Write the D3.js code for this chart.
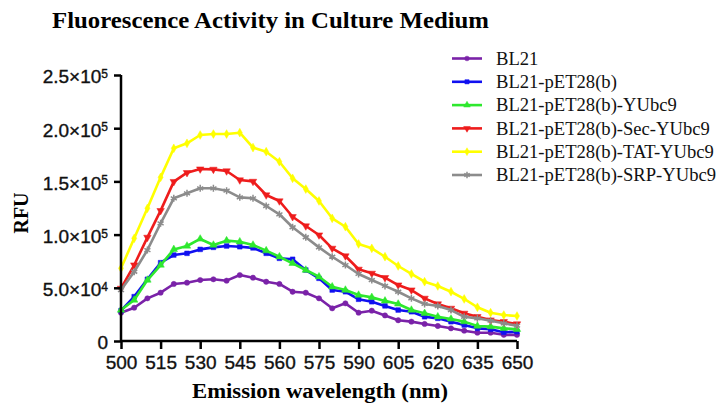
<!DOCTYPE html>
<html>
<head>
<meta charset="utf-8">
<script src="https://cdn.jsdelivr.net/npm/d3@7"></script>
<style>
  body { margin: 0; background: #fff; }
  svg { display: block; }
</style>
</head>
<body>
<div id="chart"></div>
<script>
// wavelengths (nm), one reading every 5 nm
const wavelengths = d3.range(500, 651, 5);

const seriesNames = [
  "BL21",
  "BL21-pET28(b)",
  "BL21-pET28(b)-YUbc9",
  "BL21-pET28(b)-Sec-YUbc9",
  "BL21-pET28(b)-TAT-YUbc9",
  "BL21-pET28(b)-SRP-YUbc9"
];

// RFU values
const bl21 = [26600, 31300, 40100, 45400, 53600, 54800, 57300, 58000, 56700, 62000, 59500,
  55700, 53600, 46300, 45400, 40100, 30700, 35400, 26600, 28500, 24000,
  19500, 18200, 16000, 14100, 11900, 9700, 7800, 7800, 5800, 5800];
const pet28 = [28500, 41700, 58000, 73600, 80800, 82400, 86100, 88000, 89300, 88600, 87500,
  82400, 77700, 76800, 66700, 58900, 47900, 46300, 39200, 36900, 33000,
  29100, 27500, 22800, 21300, 18100, 15000, 11900, 11000, 8200, 8700];
const yubc9 = [29100, 38500, 57300, 71400, 86100, 89300, 95900, 90200, 94300, 93300, 90200,
  84900, 79200, 73000, 66700, 60400, 51000, 47900, 43200, 41000, 37700,
  34800, 29100, 26000, 22800, 20700, 18200, 14100, 13500, 11900, 11000];
const secYubc9 = [49500, 71400, 97400, 122500, 149800, 158200, 161600, 161300, 159800, 151300, 150000,
  137200, 131600, 116800, 108100, 99600, 87100, 79900, 67400, 63600, 59500,
  52600, 47900, 40100, 34800, 30700, 26000, 22800, 19700, 18100, 16000];
const tatYubc9 = [68300, 96500, 124700, 153800, 181100, 185800, 193600, 194500, 194500, 195800, 181800,
  177900, 168500, 152900, 142800, 131600, 115300, 107400, 91200, 87100, 79200,
  70500, 63000, 55700, 51700, 46300, 39500, 31700, 26600, 24400, 23500];
const srpYubc9 = [47900, 65100, 85500, 110600, 134100, 138800, 143500, 143500, 141300, 135000, 134100,
  126900, 119100, 106900, 97500, 88000, 79200, 71400, 63000, 57300, 51800,
  46300, 40100, 34800, 32900, 29100, 22800, 21300, 19100, 16600, 14400];

const seriesValues = [bl21, pet28, yubc9, secYubc9, tatYubc9, srpYubc9];

const xTicks = [500, 515, 530, 545, 560, 575, 590, 605, 620, 635, 650];
const yTicks = [0, 50000, 100000, 150000, 200000, 250000];
const yTickMantissa = ["0", "5.0", "1.0", "1.5", "2.0", "2.5"];
const yTickExponent = ["", "4", "5", "5", "5", "5"];

const colors = ["#7a22a8", "#1010f0", "#2ee82e", "#ee1c1c", "#ffff00", "#8c8c8c"];
const symbols = [d3.symbolCircle, d3.symbolSquare, d3.symbolTriangle, d3.symbolTriangle, d3.symbolDiamond, d3.symbolAsterisk];
const symbolSizes = [22, 22, 24, 24, 22, 34];
const symbolRotate = [0, 0, 0, 180, 0, 0];

const W = 718, H = 405;

const svg = d3.select("#chart")
  .append("svg")
  .attr("width", W)
  .attr("height", H);

const x = d3.scaleLinear().domain([500, 650]).range([121, 517]);
const y = d3.scaleLinear().domain([0, 250000]).range([341, 75]);

// title
svg.append("text")
  .attr("x", 52)
  .attr("y", 28)
  .attr("textLength", 437)
  .attr("lengthAdjust", "spacingAndGlyphs")
  .style("font-family", "'Liberation Serif', 'Times New Roman', serif")
  .style("font-weight", "bold")
  .style("font-size", "22.5px")
  .text("Fluorescence Activity in Culture Medium");

// series lines and markers
const line = d3.line()
  .x((d, i) => x(wavelengths[i]))
  .y(d => y(d));

seriesValues.forEach((vals, s) => {
  const g = svg.append("g");
  g.append("path")
    .datum(vals)
    .attr("fill", "none")
    .attr("stroke", colors[s])
    .attr("stroke-width", 2.6)
    .attr("stroke-linejoin", "round")
    .attr("d", line);

  const sym = d3.symbol().type(symbols[s]).size(symbolSizes[s]);
  g.selectAll("path.pt")
    .data(vals)
    .enter()
    .append("path")
    .attr("class", "pt")
    .attr("transform", (d, i) => `translate(${x(wavelengths[i])},${y(d)}) rotate(${symbolRotate[s]})`)
    .attr("d", sym)
    .attr("fill", symbols[s] === d3.symbolAsterisk ? "none" : colors[s])
    .attr("stroke", colors[s])
    .attr("stroke-width", symbols[s] === d3.symbolAsterisk ? 1.5 : 0.5);
});

const tickFont = "'Liberation Sans', Arial, sans-serif";

// x axis
const xAxis = svg.append("g")
  .attr("transform", "translate(0,341)")
  .call(d3.axisBottom(x).tickValues(xTicks).tickSize(8).tickSizeOuter(0));
xAxis.select(".domain").attr("stroke-width", 2.5).attr("d", "M121,0H517");
xAxis.selectAll(".tick line").attr("stroke-width", 2.5);
xAxis.selectAll(".tick text")
  .attr("y", 15)
  .attr("dy", "0.71em")
  .style("font-family", tickFont)
  .style("font-size", "19px")
  .attr("fill", "#111")
  .attr("stroke", "#111")
  .attr("stroke-width", 0.35);

// y axis
const yAxis = svg.append("g")
  .attr("transform", "translate(121,0)")
  .call(d3.axisLeft(y).tickValues(yTicks).tickSize(7).tickSizeOuter(0).tickFormat(""));
yAxis.select(".domain").attr("stroke-width", 2.5).attr("d", "M0,341V75");
yAxis.selectAll(".tick line").attr("stroke-width", 2.5);
yAxis.selectAll(".tick text").each(function (d, i) {
  const t = d3.select(this)
    .attr("x", -13)
    .attr("dy", "0.42em")
    .style("font-family", tickFont)
    .style("font-size", "19px")
    .attr("fill", "#111")
    .attr("stroke", "#111")
    .attr("stroke-width", 0.35);
  t.append("tspan").text(yTickMantissa[i] + (yTickExponent[i] ? "\u00d710" : ""));
  if (yTickExponent[i]) {
    t.append("tspan")
      .attr("dy", "-0.45em")
      .style("font-size", "12px")
      .text(yTickExponent[i]);
  }
});

// axis titles
svg.append("text")
  .attr("x", 192)
  .attr("y", 398)
  .attr("textLength", 256)
  .attr("lengthAdjust", "spacingAndGlyphs")
  .style("font-family", "'Liberation Serif', 'Times New Roman', serif")
  .style("font-weight", "bold")
  .style("font-size", "20px")
  .text("Emission wavelength (nm)");

svg.append("text")
  .attr("transform", "translate(28,213) rotate(-90)")
  .attr("text-anchor", "middle")
  .style("font-family", "'Liberation Serif', 'Times New Roman', serif")
  .style("font-weight", "bold")
  .style("font-size", "20px")
  .text("RFU");

// legend
const legend = svg.append("g");
seriesNames.forEach((name, s) => {
  const ly = 58.5 + s * 23.3;
  legend.append("line")
    .attr("x1", 452).attr("x2", 482)
    .attr("y1", ly).attr("y2", ly)
    .attr("stroke", colors[s])
    .attr("stroke-width", 2.6);
  legend.append("path")
    .attr("transform", `translate(467,${ly}) rotate(${symbolRotate[s]})`)
    .attr("d", d3.symbol().type(symbols[s]).size(symbolSizes[s] * 0.8)())
    .attr("fill", symbols[s] === d3.symbolAsterisk ? "none" : colors[s])
    .attr("stroke", colors[s])
    .attr("stroke-width", symbols[s] === d3.symbolAsterisk ? 1.5 : 0.5);
  legend.append("text")
    .attr("x", 496)
    .attr("y", ly)
    .attr("dy", "0.33em")
    .style("font-family", "'Liberation Serif', 'Times New Roman', serif")
    .style("font-size", "18.6px")
    .attr("fill", "#111")
    .text(name);
});
</script>
</body>
</html>
